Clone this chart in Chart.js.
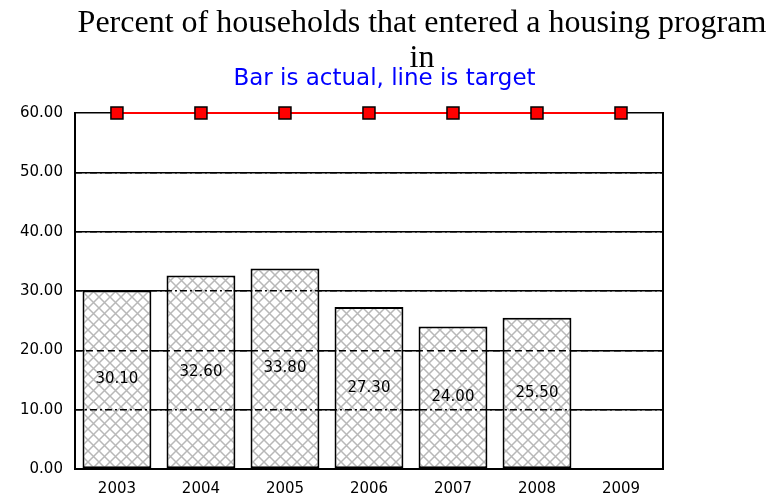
<!DOCTYPE html>
<html>
<head>
<meta charset="utf-8">
<script src="https://cdn.jsdelivr.net/npm/chart.js@4"></script>
<style>
    body { margin: 0; background: #fff; }
    #wrap { width: 769px; height: 497px; }
</style>
</head>
<body>
<div id="wrap"><canvas id="myChart"></canvas></div>
<script>
// data
var years = ["2003", "2004", "2005", "2006", "2007", "2008", "2009"];
var actual = [30.10, 32.60, 33.80, 27.30, 24.00, 25.50, null];
var target = [60, 60, 60, 60, 60, 60, 60];
var titleLines = ["Percent of households that entered a housing program", "in"];
var subTitle = "Bar is actual, line is target";

// cross hatch fill for the bars
function makeHatch() {
    var c = document.createElement("canvas");
    c.width = 11;
    c.height = 11;
    var g = c.getContext("2d");
    g.fillStyle = "#ffffff";
    g.fillRect(0, 0, 11, 11);
    g.strokeStyle = "#b8b8b8";
    g.lineWidth = 1.5;
    g.beginPath();
    g.moveTo(0, 0); g.lineTo(11, 11);
    g.moveTo(11, 0); g.lineTo(0, 11);
    g.stroke();
    return g.createPattern(c, "repeat");
}

// titles drawn by hand: main title is centred right of the y axis,
// the blue subtitle on the whole canvas
var titlePlugin = {
    id: "titles",
    afterDraw: function (chart) {
        var ctx = chart.ctx;
        var cx = (chart.chartArea.left + chart.width) / 2;
        ctx.save();
        ctx.textAlign = "center";
        ctx.textBaseline = "alphabetic";
        ctx.fillStyle = "#000";
        ctx.font = "32px 'Liberation Serif', 'Times New Roman', serif";
        ctx.fillText(titleLines[0], cx, 32);
        ctx.fillText(titleLines[1], cx, 67);
        ctx.fillStyle = "#0000ff";
        ctx.font = "23px 'DejaVu Sans', sans-serif";
        ctx.fillText(subTitle, chart.width / 2, 85);
        ctx.restore();
    }
};

// value labels in the middle of each bar
var valuePlugin = {
    id: "barValues",
    afterDraw: function (chart) {
        var ctx = chart.ctx;
        var meta = chart.getDatasetMeta(0);
        ctx.save();
        ctx.fillStyle = "#000";
        ctx.font = "15px 'DejaVu Sans', sans-serif";
        ctx.textAlign = "center";
        ctx.textBaseline = "middle";
        meta.data.forEach(function (bar, i) {
            if (actual[i] === null) return;
            ctx.fillText(actual[i].toFixed(2), bar.x, (bar.y + bar.base) / 2);
        });
        ctx.restore();
    }
};

var ctx = document.getElementById("myChart").getContext("2d");
new Chart(ctx, {
    data: {
        labels: years,
        datasets: [
            {
                type: "bar",
                label: "Actual",
                data: actual,
                backgroundColor: makeHatch(),
                borderColor: "#000",
                borderWidth: 2,
                borderSkipped: false,
                categoryPercentage: 1,
                barPercentage: 0.82,
                order: 1
            },
            {
                type: "line",
                label: "Target",
                data: target,
                borderColor: "#ff0000",
                borderWidth: 2,
                pointStyle: "rect",
                pointRadius: 8.5,
                pointHoverRadius: 8.5,
                pointBackgroundColor: "#ff0000",
                pointBorderColor: "#000",
                pointBorderWidth: 1.5,
                clip: false,
                order: 0
            }
        ]
    },
    options: {
        responsive: true,
        maintainAspectRatio: false,
        animation: false,
        layout: { padding: { left: 8, right: 106, top: 113, bottom: -12 } },
        plugins: {
            legend: { display: false },
            tooltip: { enabled: false },
            title: { display: false }
        },
        scales: {
            x: {
                offset: true,
                grid: { display: false, drawTicks: false },
                border: { display: true, color: "#000", width: 2, z: 1 },
                ticks: {
                    color: "#000",
                    padding: 11,
                    font: { family: "'DejaVu Sans', sans-serif", size: 15 }
                }
            },
            y: {
                min: 0,
                max: 60,
                grid: { color: "#000", lineWidth: 1.5, drawTicks: false },
                border: { display: true, color: "#000", width: 2 },
                ticks: {
                    stepSize: 10,
                    color: "#000",
                    padding: 12,
                    font: { family: "'DejaVu Sans', sans-serif", size: 15 },
                    callback: function (v) { return v.toFixed(2); }
                }
            },
            // right frame + dashed grid that shows over the bars
            y2: {
                position: "right",
                min: 0,
                max: 60,
                grid: {
                    z: 1,
                    lineWidth: 1.5,
                    drawTicks: false,
                    color: function (c) {
                        var v = c.tick ? c.tick.value : 0;
                        return (v === 0 || v === 60) ? "rgba(0,0,0,0)" : "#000";
                    }
                },
                border: {
                    display: true,
                    color: "#000",
                    width: 2,
                    z: 1,
                    dash: function (c) {
                        if (!c.tick) return [];
                        return c.tick.value === 20 ? [7, 4] : [7, 3, 2, 3];
                    }
                },
                ticks: { display: false, stepSize: 10 }
            }
        }
    },
    plugins: [titlePlugin, valuePlugin]
});
</script>
</body>
</html>
